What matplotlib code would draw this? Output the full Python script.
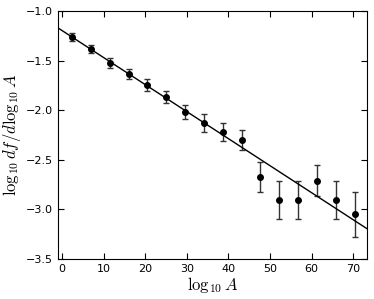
import matplotlib.pyplot as plt
import numpy as np

plt.rcParams['mathtext.fontset'] = 'cm'

logA = [2.4, 7.0, 11.5, 16.0, 20.5, 25.0, 29.6, 34.2, 38.6, 43.2, 47.7, 52.2, 56.8, 61.4, 65.9, 70.4]
logdf = [-1.26, -1.38, -1.52, -1.635, -1.75, -1.87, -2.02, -2.13, -2.22, -2.30,
         -2.67, -2.905, -2.905, -2.71, -2.905, -3.05]
err = [0.04, 0.04, 0.05, 0.05, 0.06, 0.06, 0.07, 0.09, 0.09, 0.10,
       0.15, 0.19, 0.19, 0.155, 0.19, 0.23]

# линейная аппроксимация
slope = -0.02725
intercept = -1.197

fig = plt.figure(figsize=(3.74, 2.99), dpi=100)
ax = fig.add_axes([0.155, 0.134, 0.826, 0.829])

ax.errorbar(logA, logdf, yerr=err, fmt='o', color='black', ms=4,
            ecolor='#333333', elinewidth=1, capsize=2.5, capthick=1)
xx = np.linspace(-1, 73.5, 2)
ax.plot(xx, intercept + slope * xx, color='black', lw=1)

ax.set_xlim(-1, 73.3)
ax.set_ylim(-3.5, -1.0)
ax.set_xticks([0, 10, 20, 30, 40, 50, 60, 70])
ax.set_yticks([-3.5, -3.0, -2.5, -2.0, -1.5, -1.0])
ax.tick_params(direction='in', top=True, right=True, labelsize=8, length=4)
ax.set_xlabel(r'$\log_{10}A$', fontsize=12, labelpad=1)
ax.set_ylabel(r'$\log_{10}df/d\log_{10}A$', fontsize=12, labelpad=2)

fig.savefig('out.png')
